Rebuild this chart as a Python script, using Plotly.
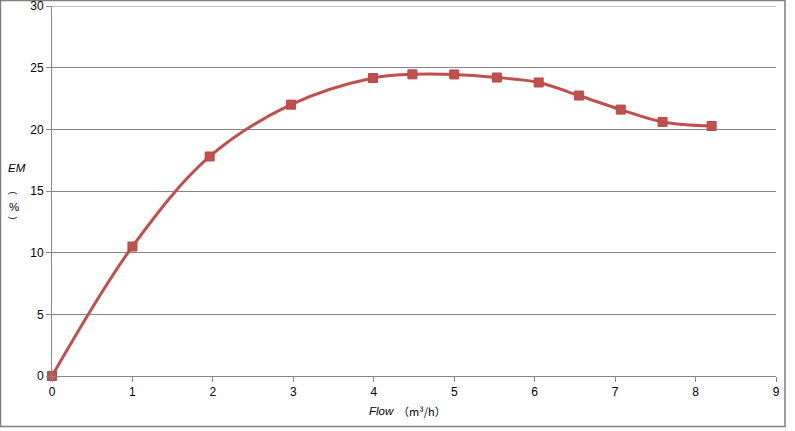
import plotly.graph_objects as go

flow = [0, 1.0, 1.96, 2.97, 3.99, 4.48, 5.0, 5.53, 6.05, 6.55, 7.07, 7.59, 8.2]
em = [0, 10.5, 17.8, 22.0, 24.16, 24.46, 24.45, 24.2, 23.8, 22.74, 21.6, 20.6, 20.27]

x_ticks = list(range(0, 10))
y_ticks = [0, 5, 10, 15, 20, 25, 30]

W, H = 795, 431
L, R, T, B = 52, 776, 6, 376


def px(x):
    return (x - L) / (R - L)


def py(y):
    return (B - y) / (B - T)


fig = go.Figure()
fig.add_trace(go.Scatter(
    x=flow, y=em, mode="lines+markers",
    line=dict(color="#C0504D", width=3, shape="spline", smoothing=1.0),
    marker=dict(symbol="square", size=9, color="#C0504D",
                line=dict(color="#B84845", width=1)),
    showlegend=False, hoverinfo="x+y", cliponaxis=False,
))

FONT = "Liberation Sans, Arial, sans-serif"
axis_font = dict(family=FONT, size=12, color="#000000")


def label(text, x, y, size=11.5, family=FONT, angle=0):
    return dict(text=text, x=px(x), y=py(y), xref="paper", yref="paper",
                xanchor="center", yanchor="middle", textangle=angle,
                showarrow=False, font=dict(family=family, size=size, color="#000"))


fig.update_layout(
    width=W, height=H,
    margin=dict(l=L, r=W - R, t=T, b=H - B, pad=0, autoexpand=False),
    paper_bgcolor="white", plot_bgcolor="white",
    xaxis=dict(range=[0, 9], tickvals=x_ticks, showgrid=False, zeroline=False,
               showline=True, linecolor="#868686", linewidth=1,
               ticks="outside", ticklen=5, tickcolor="#868686", automargin=False,
               tickfont=axis_font, fixedrange=True, ticklabeloverflow="allow"),
    yaxis=dict(range=[0, 30], tickvals=y_ticks, showgrid=True, gridcolor="#868686",
               gridwidth=1, zeroline=False, showline=True, linecolor="#868686",
               linewidth=1, ticks="outside", ticklen=5, tickcolor="#868686",
               automargin=False,
               tickfont=axis_font, fixedrange=True, ticklabeloverflow="allow"),
    shapes=[
        dict(type="rect", xref="paper", yref="paper",
             x0=px(0.5), x1=px(785), y0=py(426.5), y1=py(0.5),
             line=dict(color="#7F7F7F", width=1.5), layer="below"),
        dict(type="line", xref="paper", yref="y", x0=0, x1=1, y0=30, y1=30,
             line=dict(color="#868686", width=1), layer="below"),
    ],
    annotations=[
        label("<i>EM</i>", 17, 168),
        label("(", 12.5, 193, size=9, angle=90),
        label("%", 13.5, 207),
        label(")", 13, 217.5, size=9, angle=90),
        label("<i>Flow</i>", 381, 411),
        label("（m³/h）", 422, 411, size=11, family="Noto Sans CJK SC"),
    ],
)

fig.write_html("out.html", config={"displayModeBar": False},
               post_script="document.body.style.margin='0';")
